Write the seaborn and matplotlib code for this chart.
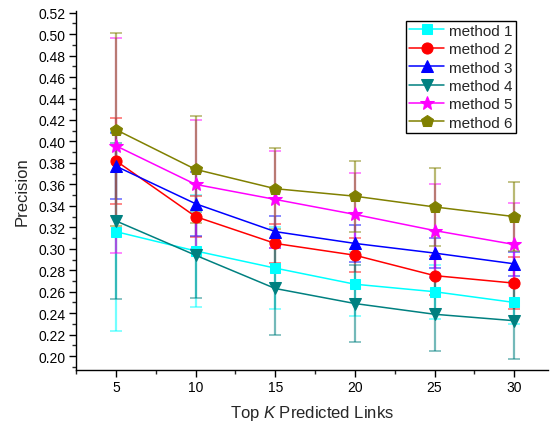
import matplotlib
matplotlib.use("Agg")
import matplotlib.pyplot as plt
from matplotlib.ticker import MultipleLocator, FormatStrFormatter
import numpy as np
import pandas as pd
import seaborn as sns

# Top-K values on the x axis
top_k = [5, 10, 15, 20, 25, 30]

methods = ["method 1", "method 2", "method 3", "method 4", "method 5", "method 6"]

# Mean precision per method
prec_m1 = [0.316, 0.298, 0.282, 0.267, 0.260, 0.250]
prec_m2 = [0.382, 0.330, 0.305, 0.294, 0.275, 0.268]
prec_m3 = [0.377, 0.342, 0.316, 0.305, 0.296, 0.286]
prec_m4 = [0.326, 0.294, 0.263, 0.249, 0.239, 0.233]
prec_m5 = [0.396, 0.360, 0.346, 0.332, 0.317, 0.304]
prec_m6 = [0.411, 0.374, 0.356, 0.349, 0.339, 0.330]

# Standard deviation per method
err_m1 = [0.093, 0.052, 0.038, 0.030, 0.025, 0.020]
err_m2 = [0.040, 0.019, 0.018, 0.016, 0.018, 0.024]
err_m3 = [0.031, 0.030, 0.015, 0.017, 0.014, 0.011]
err_m4 = [0.073, 0.040, 0.043, 0.036, 0.034, 0.036]
err_m5 = [0.100, 0.060, 0.045, 0.039, 0.043, 0.039]
err_m6 = [0.090, 0.050, 0.038, 0.033, 0.036, 0.032]

precisions = [prec_m1, prec_m2, prec_m3, prec_m4, prec_m5, prec_m6]
errors = [err_m1, err_m2, err_m3, err_m4, err_m5, err_m6]

colors = ["#00FFFF", "#FF0000", "#0000FF", "#008080", "#FF00FF", "#808000"]
markers = ["s", "o", "^", "v", "*", "p"]
msizes = [7, 8, 8, 8, 10, 9]

sns.set_style("ticks")
plt.rcParams["font.family"] = ["Liberation Sans", "DejaVu Sans"]
plt.rcParams["mathtext.fontset"] = "custom"
plt.rcParams["mathtext.rm"] = "Liberation Sans"
plt.rcParams["mathtext.it"] = "Liberation Sans:italic"

fig = plt.figure(figsize=(5.51, 4.27), dpi=100)
ax = fig.add_axes([0.138, 0.131, 0.856, 0.842])

rows = []
for name, vals, errs in zip(methods, precisions, errors):
    for k, v, e in zip(top_k, vals, errs):
        rows.append({"K": k, "Precision": v, "err": e, "Method": name})
df = pd.DataFrame(rows)

for name, col, mk, ms in zip(methods, colors, markers, msizes):
    sub = df[df["Method"] == name]
    ax.errorbar(sub["K"], sub["Precision"], yerr=sub["err"], fmt="none",
                ecolor=col, elinewidth=1.6, capsize=4, capthick=1.2,
                alpha=0.55, zorder=1)
    sns.lineplot(data=sub, x="K", y="Precision", color=col, marker=mk,
                 markersize=ms, markeredgecolor=col, linewidth=1.1,
                 label=name, ax=ax, zorder=3)

ax.set_xlim(2.5, 32.1)
ax.set_ylim(0.187, 0.522)
ax.xaxis.set_major_locator(MultipleLocator(5))
ax.xaxis.set_minor_locator(MultipleLocator(2.5))
ax.yaxis.set_major_locator(MultipleLocator(0.02))
ax.yaxis.set_minor_locator(MultipleLocator(0.01))
ax.yaxis.set_major_formatter(FormatStrFormatter("%.2f"))
ax.tick_params(which="major", direction="out", length=5, width=1,
               labelsize=10, colors="black", pad=2.5)
ax.tick_params(which="minor", direction="out", length=3, width=1)

for s in ["top", "right"]:
    ax.spines[s].set_visible(False)
for s in ["left", "bottom"]:
    ax.spines[s].set_color("black")
    ax.spines[s].set_linewidth(1.0)

ax.set_xlabel(r"Top $K$ Predicted Links", fontsize=12, labelpad=6)
ax.set_ylabel("Precision", fontsize=12, labelpad=6)

leg = ax.legend(loc="upper right", bbox_to_anchor=(0.932, 0.972),
                borderaxespad=0, fancybox=False, frameon=True,
                edgecolor="black", fontsize=11, handlelength=2.3,
                handletextpad=0.3, labelspacing=0.29, borderpad=0.2,
                framealpha=1)
leg.get_frame().set_linewidth(1.0)

fig.savefig("out.png", dpi=100)
